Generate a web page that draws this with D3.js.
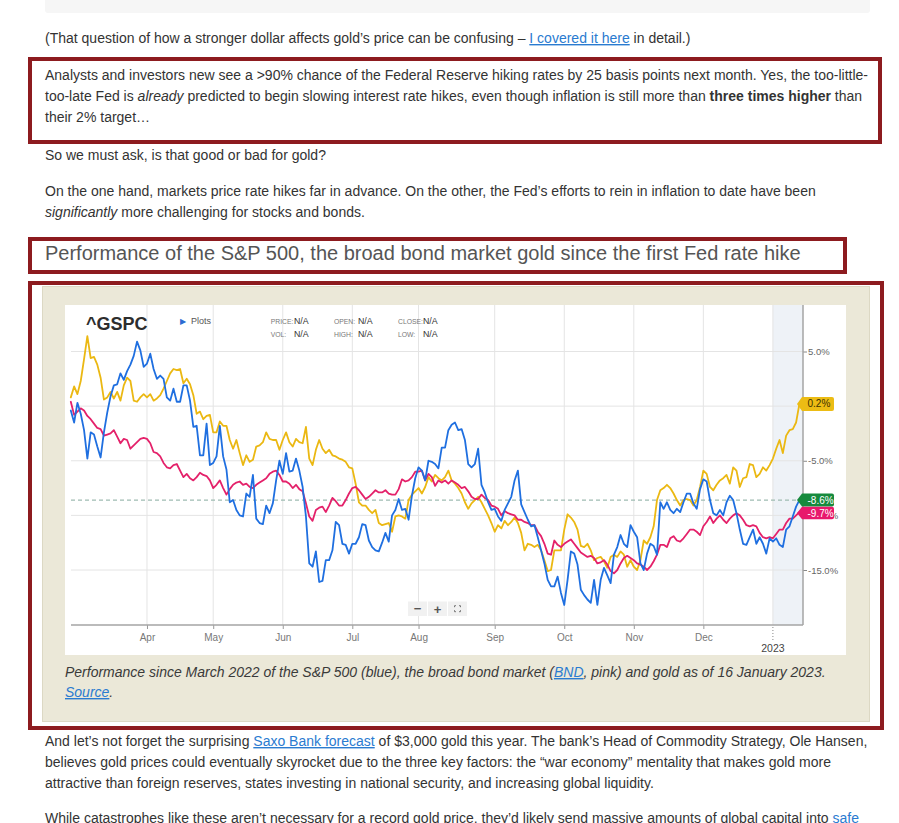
<!DOCTYPE html>
<html>
<head>
<meta charset="utf-8">
<script src="https://cdn.jsdelivr.net/npm/d3@7"></script>
<style>
html,body{margin:0;padding:0;background:#fff;width:899px;height:823px;overflow:hidden;}
svg text{white-space:pre;}
</style>
</head>
<body>
<svg id="page" width="899" height="823"></svg>
<script>
// ---------- DATA (percent change since first trading day of March 2022, one value per trading day) ----------
const sp500 = [
 -0.4,-1.5,0.3,-0.7,-2.2,-4.8,-2.4,-2.6,-3.7,-4.7,
 -2.4,-0.6,0.9,1.9,2.0,3.0,2.4,3.2,3.8,4.6,
 5.9,5.1,3.6,3.9,4.8,3.4,2.5,2.8,2.5,0.8,
 0.5,1.6,0.4,0.4,1.9,1.9,0.5,-1.9,-1.8,-4.5,
 -4.5,-1.6,-5.4,-5.2,-4.6,-1.8,-4.6,-5.8,-8.8,-8.6,
 -9.5,-10.0,-10.1,-8.0,-8.3,-6.3,-10.3,-10.7,-10.8,-9.1,
 -9.8,-8.9,-6.8,-5.0,-6.2,-4.3,-6.0,-5.9,-4.8,-5.9,
 -7.4,-10.1,-14.4,-14.7,-13.3,-16.1,-16.0,-14.1,-14.1,-13.2,
 -10.6,-10.9,-12.6,-12.7,-13.5,-12.6,-12.6,-12.0,-10.8,-10.9,
 -12.3,-12.9,-13.2,-13.3,-12.5,-11.6,-12.4,-10.0,-9.5,-8.5,
 -9.5,-9.4,-10.4,-8.2,-6.6,-5.6,-5.9,-6.8,-5.0,-5.1,
 -5.3,-5.7,-3.8,-3.8,-2.2,-1.7,-1.5,-2.2,-2.1,-3.1,
 -5.3,-5.6,-5.3,-3.9,-7.2,-7.9,-8.8,-9.5,-9.4,-10.1,
 -10.5,-9.5,-8.9,-8.3,-6.8,-5.9,-9.0,-9.7,-10.4,-11.0,
 -10.9,-12.0,-13.2,-14.4,-15.9,-16.5,-16.5,-15.6,-17.1,-18.2,
 -15.9,-13.3,-13.5,-14.5,-16.8,-17.3,-17.7,-18.0,-15.9,-18.2,
 -15.9,-14.8,-15.5,-16.2,-13.6,-12.9,-11.8,-12.6,-12.9,-10.9,
 -11.5,-12.0,-14.4,-15.0,-13.5,-12.6,-12.8,-13.6,-8.8,-9.4,
 -8.8,-9.5,-9.8,-9.4,-9.7,-8.8,-8.0,-8.0,-8.9,-9.4,
 -7.6,-6.7,-6.9,-8.6,-9.8,-10.0,-9.5,-10.0,-8.8,-8.2,
 -8.6,-9.8,-11.3,-12.6,-12.7,-12.0,-11.3,-12.6,-12.0,-12.6,
 -13.5,-12.1,-12.4,-12.1,-12.7,-12.9,-11.3,-11.0,-10.1,-9.2,
 -8.6
];
const bnd = [
 0.4,-0.8,-0.5,-0.2,-0.4,-0.9,-1.2,-1.6,-2.0,-2.1,
 -2.7,-2.6,-2.5,-2.2,-2.8,-3.4,-3.0,-3.1,-3.9,-3.6,
 -3.3,-3.0,-2.9,-3.0,-3.4,-4.2,-4.3,-4.6,-5.2,-5.6,
 -5.7,-5.4,-5.3,-5.9,-6.5,-6.2,-6.6,-6.8,-6.5,-6.1,
 -6.3,-6.4,-6.8,-7.5,-7.2,-6.8,-7.5,-8.1,-7.6,-7.2,
 -7.0,-6.9,-7.2,-7.1,-7.4,-7.5,-7.2,-7.0,-6.8,-6.6,
 -6.2,-6.0,-5.9,-6.3,-6.9,-6.9,-7.1,-7.5,-7.2,-7.6,
 -7.8,-8.9,-10.1,-10.5,-9.5,-9.3,-9.2,-9.7,-9.1,-8.4,
 -8.7,-9.1,-9.1,-8.6,-8.0,-7.5,-7.4,-7.7,-8.1,-8.5,
 -8.3,-8.0,-7.7,-7.9,-7.9,-7.7,-8.0,-8.1,-8.1,-7.6,
 -6.7,-6.9,-6.8,-6.5,-6.0,-6.0,-5.9,-6.8,-6.2,-6.5,
 -7.3,-6.8,-7.0,-6.8,-7.1,-6.8,-7.0,-7.2,-7.5,-7.4,
 -7.8,-8.3,-8.5,-8.5,-8.1,-8.4,-8.6,-9.1,-9.2,-9.4,
 -10.0,-9.6,-9.8,-9.9,-10.0,-10.4,-10.4,-10.6,-10.7,-10.9,
 -10.9,-11.5,-11.9,-12.6,-13.5,-13.6,-12.3,-12.7,-12.9,-12.6,
 -12.4,-12.2,-12.6,-13.0,-13.4,-13.6,-13.8,-13.7,-13.9,-14.4,
 -14.3,-14.1,-14.5,-15.1,-15.3,-15.0,-14.4,-13.9,-13.7,-13.9,
 -14.1,-14.4,-14.5,-14.7,-15.0,-14.7,-14.2,-13.6,-12.7,-12.7,
 -12.9,-12.1,-11.9,-12.3,-12.4,-12.1,-11.7,-11.3,-11.3,-11.5,
 -11.8,-11.0,-10.6,-10.1,-10.7,-10.3,-10.0,-10.4,-10.7,-10.3,
 -10.0,-9.8,-10.0,-10.4,-10.9,-11.0,-10.9,-11.0,-11.6,-12.0,
 -12.1,-12.0,-12.1,-11.7,-11.3,-11.3,-10.7,-10.3,-10.3,-10.0,
 -9.7
];
const gold = [
 0.8,1.8,1.1,2.3,4.3,6.4,4.4,4.5,3.8,2.6,
 0.6,0.8,1.3,0.7,1.3,0.5,1.9,2.6,2.3,0.5,
 0.4,0.8,1.1,0.8,1.1,0.5,0.7,1.0,1.6,2.3,
 3.0,3.4,3.3,3.4,2.1,2.5,2.0,1.0,-0.7,-0.5,
 -1.2,-0.9,-0.8,-2.4,-2.4,-1.4,-1.8,-1.8,-3.1,-3.9,
 -3.1,-4.3,-5.4,-4.5,-5.1,-4.9,-3.7,-3.6,-3.3,-2.4,
 -3.0,-3.1,-3.1,-4.0,-3.1,-2.4,-3.3,-3.7,-3.0,-3.3,
 -3.4,-1.9,-4.8,-5.4,-4.0,-3.1,-3.9,-4.3,-4.0,-4.5,
 -4.6,-4.8,-4.9,-5.1,-5.6,-5.7,-7.1,-8.8,-9.1,-9.1,
 -9.5,-9.8,-9.5,-10.7,-10.9,-10.8,-10.7,-11.5,-10.1,-10.0,
 -10.1,-10.3,-8.6,-8.1,-7.8,-7.5,-8.0,-7.4,-6.5,-6.9,
 -6.3,-6.6,-6.8,-6.5,-5.9,-6.8,-7.1,-7.5,-8.0,-8.8,
 -9.4,-8.9,-8.6,-8.3,-8.8,-9.4,-10.0,-10.7,-11.5,-10.9,
 -11.2,-10.5,-10.9,-10.6,-10.2,-10.7,-11.6,-13.2,-12.6,-12.7,
 -12.9,-12.7,-13.2,-14.1,-15.1,-15.0,-13.2,-13.2,-13.2,-11.3,
 -9.9,-10.2,-10.6,-11.3,-12.8,-12.9,-12.6,-13.2,-14.1,-13.9,
 -13.8,-14.2,-14.8,-13.8,-13.6,-13.8,-13.3,-13.6,-14.7,-14.1,
 -14.7,-15.0,-14.1,-12.3,-12.6,-12.0,-11.0,-8.6,-7.7,-7.5,
 -7.2,-7.5,-8.0,-8.6,-9.1,-8.6,-8.5,-8.6,-9.1,-8.6,
 -7.4,-5.9,-6.2,-7.4,-7.7,-7.2,-6.8,-6.6,-6.3,-7.1,
 -5.6,-5.9,-7.4,-6.6,-6.5,-5.3,-5.4,-6.5,-6.2,-5.6,
 -5.9,-5.4,-4.8,-3.9,-3.1,-4.3,-2.7,-2.2,-2.1,-1.5,
 0.2
];
// month ticks: label and trading-day index of the first session of the month
const monthLabels = ["Apr","May","Jun","Jul","Aug","Sep","Oct","Nov","Dec"];
const monthDays   = [23, 43, 64, 85, 105, 128, 149, 170, 191];
const yearLabel = "2023";
const yearDay = 212;
const yTicks = [5, 0, -5, -10, -15];
const headerLabels = [["PRICE:","N/A"],["OPEN:","N/A"],["CLOSE:","N/A"],["VOL:","N/A"],["HIGH:","N/A"],["LOW:","N/A"]];

// ---------- PAGE TEXT ----------
const FONT = "'Liberation Sans', Arial, Helvetica, sans-serif";
const TXT = "#333";
const LINK = "#2a7bd0";
const RED = "#8d1b1f";

const svg = d3.select("#page").attr("font-family", FONT);

function textLine(x, y, segs, size, color, italic) {
  const t = svg.append("text").attr("x", x).attr("y", y)
    .attr("font-size", size).attr("fill", color || TXT)
    .attr("font-style", italic ? "italic" : null);
  segs.forEach(s => {
    if (typeof s === "string") s = {t: s};
    const ts = t.append("tspan").text(s.t);
    if (s.link) ts.attr("fill", LINK).style("text-decoration", "underline");
    if (s.em) ts.attr("font-style", "italic");
    if (s.b) ts.attr("font-weight", "bold");
  });
  return t;
}

// previous content box (bottom edge visible)
svg.append("rect").attr("x", 45).attr("y", -4).attr("width", 825).attr("height", 17)
  .attr("rx", 3).attr("fill", "#f6f6f6");

textLine(45, 43, ["(That question of how a stronger dollar affects gold’s price can be confusing – ",
  {t: "I covered it here", link: true}, " in detail.)"], 14);

// quote box
svg.append("rect").attr("x", 30).attr("y", 59).attr("width", 850).attr("height", 83)
  .attr("fill", "#fff").attr("stroke", RED).attr("stroke-width", 4);
textLine(45, 80, ["Analysts and investors new see a >90% chance of the Federal Reserve hiking rates by 25 basis points next month. Yes, the too-little-"], 14);
textLine(45, 101, ["too-late Fed is ", {t: "already", em: true},
  " predicted to begin slowing interest rate hikes, even though inflation is still more than ",
  {t: "three times higher", b: true}, " than"], 14);
textLine(45, 122, ["their 2% target…"], 14);

textLine(45, 160, ["So we must ask, is that good or bad for gold?"], 14);
textLine(45, 196, ["On the one hand, markets price rate hikes far in advance. On the other, the Fed’s efforts to rein in inflation to date have been"], 14);
textLine(45, 217, [{t: "significantly", em: true}, " more challenging for stocks and bonds."], 14);

// heading box
svg.append("rect").attr("x", 30).attr("y", 239).attr("width", 815).attr("height", 33)
  .attr("fill", "#fff").attr("stroke", RED).attr("stroke-width", 4);
textLine(45, 260, ["Performance of the S&P 500, the broad bond market gold since the first Fed rate hike"], 20, "#555");

// figure box
svg.append("rect").attr("x", 30).attr("y", 283).attr("width", 852).attr("height", 445)
  .attr("fill", "#fff").attr("stroke", RED).attr("stroke-width", 4);
svg.append("rect").attr("x", 42.5).attr("y", 286.5).attr("width", 827).attr("height", 435)
  .attr("fill", "#ebe8d8").attr("stroke", "#dcd8c4").attr("stroke-width", 1);

textLine(65, 677, ["Performance since March 2022 of the S&P 500 (blue), the broad bond market (",
  {t: "BND", link: true}, ", pink) and gold as of 16 January 2023."], 14, "#3a3a3a", true);
textLine(65, 697, [{t: "Source", link: true}, "."], 14, "#3a3a3a", true);

textLine(45, 746, ["And let’s not forget the surprising ", {t: "Saxo Bank forecast", link: true},
  " of $3,000 gold this year. The bank’s Head of Commodity Strategy, Ole Hansen,"], 14);
textLine(45, 767, ["believes gold prices could eventually skyrocket due to the three key factors: the “war economy” mentality that makes gold more"], 14);
textLine(45, 788, ["attractive than foreign reserves, states investing in national security, and increasing global liquidity."], 14);
textLine(45, 823, ["While catastrophes like these aren’t necessary for a record gold price, they’d likely send massive amounts of global capital into ",
  {t: "safe", link: true}], 14);

// ---------- CHART ----------
const P = {left: 71, right: 803, top: 305, bottom: 625};
const x = d3.scaleLinear().domain([0, 220]).range([70.8, 799.4]);
const y = d3.scaleLinear().domain([-15, 5]).range([570, 351.5]);

const chart = svg.append("g");
chart.append("rect").attr("x", 65).attr("y", 305).attr("width", 781).attr("height", 350).attr("fill", "#fff");
// 2023 shaded region
chart.append("rect").attr("x", x(yearDay)).attr("y", P.top)
  .attr("width", P.right - x(yearDay)).attr("height", P.bottom - P.top).attr("fill", "#eef2f7");

// grid
chart.append("g").selectAll("line").data(yTicks).join("line")
  .attr("x1", P.left).attr("x2", P.right).attr("y1", d => y(d)).attr("y2", d => y(d))
  .attr("stroke", "#e4e4e4").attr("stroke-width", 1);
chart.append("g").selectAll("line").data(monthDays.concat([yearDay])).join("line")
  .attr("x1", d => x(d)).attr("x2", d => x(d)).attr("y1", P.top).attr("y2", P.bottom)
  .attr("stroke", "#e4e4e4").attr("stroke-width", 1);

// header
chart.append("text").attr("x", 86).attr("y", 330).attr("font-size", 18).attr("font-weight", "bold")
  .attr("fill", "#2d2d2d").text("^GSPC");
chart.append("text").attr("x", 180).attr("y", 324).attr("font-size", 8).attr("fill", "#2d6bd1").text("▶");
chart.append("text").attr("x", 191).attr("y", 324).attr("font-size", 9).attr("fill", "#555").text("Plots");
const hdrX = [270.7, 334, 398];
const hdrValX = [294, 358, 423];
headerLabels.forEach((h, i) => {
  const col = i % 3, row = Math.floor(i / 3);
  const yy = 324 + row * 13;
  chart.append("text").attr("x", hdrX[col]).attr("y", yy).attr("font-size", 6.8)
    .attr("fill", "#777").text(h[0]);
  chart.append("text").attr("x", hdrValX[col]).attr("y", yy).attr("font-size", 8.8)
    .attr("fill", "#333").text(h[1]);
});

// last-value reference dashed line
chart.append("line").attr("x1", P.left).attr("x2", P.right)
  .attr("y1", y(sp500[sp500.length - 1])).attr("y2", y(sp500[sp500.length - 1]))
  .attr("stroke", "#9fbcb2").attr("stroke-width", 1.2).attr("stroke-dasharray", "4,3");

// series lines
const line = d3.line().x((d, i) => x(i)).y(d => y(d)).curve(d3.curveLinear);
const series = [
  {data: gold, color: "#ebb812"},
  {data: bnd, color: "#e4216a"},
  {data: sp500, color: "#1f6fe0"}
];
series.forEach(s => {
  chart.append("path").attr("d", line(s.data)).attr("fill", "none")
    .attr("stroke", s.color).attr("stroke-width", 1.8)
    .attr("stroke-linejoin", "round").attr("stroke-linecap", "round");
});

// x axis
const xAxis = chart.append("g").attr("transform", `translate(0,${P.bottom})`)
  .call(d3.axisBottom(x).tickValues(monthDays).tickFormat((d, i) => monthLabels[i]).tickSize(4).tickPadding(5));
xAxis.select(".domain").remove();
xAxis.selectAll(".tick line").attr("stroke", "#999");
xAxis.selectAll(".tick text").attr("fill", "#777").attr("font-size", 10).attr("font-family", FONT);
chart.append("line").attr("x1", P.left).attr("x2", P.right).attr("y1", P.bottom).attr("y2", P.bottom)
  .attr("stroke", "#a5a5a5").attr("stroke-width", 1.5);
// 2023 marker
chart.append("line").attr("x1", x(yearDay)).attr("x2", x(yearDay)).attr("y1", P.bottom + 2).attr("y2", P.bottom + 16)
  .attr("stroke", "#888").attr("stroke-width", 1).attr("stroke-dasharray", "1,2");
chart.append("text").attr("x", x(yearDay)).attr("y", 652).attr("text-anchor", "middle")
  .attr("font-size", 10.5).attr("fill", "#444").text(yearLabel);

// y axis (right); the 0.0% label is fully covered by the gold value badge in the original
const yAxis = chart.append("g").attr("transform", `translate(${P.right},0)`)
  .call(d3.axisRight(y).tickValues(yTicks).tickFormat(d => d === 0 ? "" : d.toFixed(1) + "%").tickSize(4).tickPadding(1));
yAxis.select(".domain").remove();
yAxis.selectAll(".tick line").attr("stroke", "#888");
yAxis.selectAll(".tick text").attr("fill", "#666").attr("font-size", 9.5).attr("font-family", FONT);
chart.append("line").attr("x1", P.right).attr("x2", P.right).attr("y1", P.top).attr("y2", P.bottom)
  .attr("stroke", "#a5a5a5").attr("stroke-width", 1.5);

// value badges
function badge(val, cy, h, fill, txtColor) {
  const x0 = 797, x1 = 802, x2 = 834;
  chart.append("path")
    .attr("d", `M${x0},${cy} L${x1},${cy - h / 2} L${x2 - 2},${cy - h / 2} Q${x2},${cy - h / 2} ${x2},${cy - h / 2 + 2} L${x2},${cy + h / 2 - 2} Q${x2},${cy + h / 2} ${x2 - 2},${cy + h / 2} L${x1},${cy + h / 2} Z`)
    .attr("fill", fill);
  chart.append("text").attr("x", 807.5).attr("y", cy + 3.5).attr("font-size", 10)
    .attr("fill", txtColor).text(val.toFixed(1) + "%");
}
const gLast = gold[gold.length - 1], sLast = sp500[sp500.length - 1], bLast = bnd[bnd.length - 1];
badge(gLast, y(gLast), 14, "#ecbc14", "#3b3000");
badge(sLast, y(sLast), 13, "#168a3d", "#fff");
badge(bLast, y(sLast) + 13, 12.5, "#e8196c", "#fff");

// zoom controls
const zc = chart.append("g");
["−", "+", "⛶"].forEach((s, i) => {
  const bx = 408 + i * 20;
  zc.append("rect").attr("x", bx).attr("y", 601.5).attr("width", 19).attr("height", 14.5).attr("fill", "#f1f1f1");
});
zc.append("text").attr("x", 417.5).attr("y", 613).attr("text-anchor", "middle").attr("font-size", 13)
  .attr("font-weight", "bold").attr("fill", "#555").text("−");
zc.append("text").attr("x", 437.5).attr("y", 613.5).attr("text-anchor", "middle").attr("font-size", 13)
  .attr("font-weight", "bold").attr("fill", "#555").text("+");
// fullscreen icon (four corners)
const fx = 457.5, fy = 608.7, r = 3;
[[-1,-1],[1,-1],[-1,1],[1,1]].forEach(([sx, sy]) => {
  zc.append("path").attr("d", `M${fx + sx * r},${fy + sy * (r - 1.5)} L${fx + sx * r},${fy + sy * r} L${fx + sx * (r - 1.5)},${fy + sy * r}`)
    .attr("fill", "none").attr("stroke", "#777").attr("stroke-width", 1);
});
</script>
</body>
</html>
